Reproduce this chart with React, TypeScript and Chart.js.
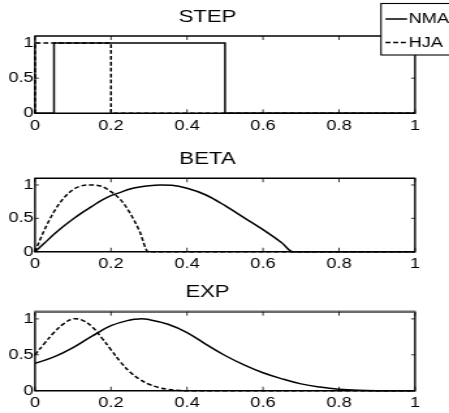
import React, { useEffect, useRef } from 'react';
import { Chart, registerables } from 'chart.js';

Chart.register(...registerables);

// ---------- data ----------
const X_TICKS = [0, 0.2, 0.4, 0.6, 0.8, 1];
const Y_TICKS = [0, 0.5, 1];
const PANEL_TITLES = ['STEP', 'BETA', 'EXP'];
const SERIES_NAMES = ['NMA', 'HJA'];

const STEP_NMA_X = [0, 0.05, 0.05, 0.5, 0.5, 1];
const STEP_NMA_Y = [0, 0, 1, 1, 0, 0];
const STEP_HJA_X = [0, 0, 0.2, 0.2, 1];
const STEP_HJA_Y = [0, 1, 1, 0, 0];

const BETA_NMA_X = [0, 0.025, 0.05, 0.075, 0.1, 0.125, 0.15, 0.175, 0.2, 0.225, 0.25, 0.275, 0.3, 0.33, 0.36, 0.4, 0.45, 0.5, 0.55, 0.6, 0.65, 0.678, 1];
const BETA_NMA_Y = [0, 0.13, 0.26, 0.38, 0.49, 0.59, 0.68, 0.77, 0.84, 0.89, 0.94, 0.97, 0.99, 1.0, 0.995, 0.95, 0.85, 0.69, 0.51, 0.33, 0.13, 0, 0];
const BETA_HJA_X = [0, 0.025, 0.05, 0.075, 0.1, 0.125, 0.15, 0.175, 0.2, 0.225, 0.25, 0.275, 0.298, 1];
const BETA_HJA_Y = [0, 0.33, 0.6, 0.8, 0.93, 0.99, 1.0, 0.98, 0.9, 0.78, 0.58, 0.31, 0, 0];

const EXP_NMA_X = [0, 0.05, 0.1, 0.15, 0.2, 0.25, 0.275, 0.3, 0.35, 0.4, 0.45, 0.5, 0.55, 0.6, 0.65, 0.7, 0.75, 0.8, 0.85, 0.9, 1];
const EXP_NMA_Y = [0.38, 0.47, 0.6, 0.76, 0.905, 0.985, 1.0, 0.99, 0.925, 0.81, 0.645, 0.49, 0.36, 0.25, 0.165, 0.095, 0.05, 0.02, 0.005, 0, 0];
const EXP_HJA_X = [0, 0.025, 0.05, 0.075, 0.1, 0.125, 0.15, 0.175, 0.2, 0.225, 0.25, 0.275, 0.3, 0.325, 0.35, 0.375, 0.4, 1];
const EXP_HJA_Y = [0.5, 0.66, 0.81, 0.93, 1.0, 0.98, 0.89, 0.74, 0.57, 0.4, 0.26, 0.16, 0.09, 0.045, 0.02, 0.005, 0, 0];

const PANEL_SERIES = [
  [[STEP_NMA_X, STEP_NMA_Y], [STEP_HJA_X, STEP_HJA_Y]],
  [[BETA_NMA_X, BETA_NMA_Y], [BETA_HJA_X, BETA_HJA_Y]],
  [[EXP_NMA_X, EXP_NMA_Y], [EXP_HJA_X, EXP_HJA_Y]],
];

// ---------- layout / style ----------
const CSS_W = 449;
const CANVAS_W = 345; // canvas is stretched horizontally to CSS_W
const K = CSS_W / CANVAS_W;
const H = 413;
const PLOT_LEFT = 35;
const PLOT_RIGHT = 415;
const XAXIS_H = 22;
const TITLE_SIZE = 17;
const TICK_SIZE = 14;
const LINE_W = 1.5;
const DASH = [3.8, 2.1];
const FONT = '"Liberation Sans", Arial, Helvetica, sans-serif';
const PANEL_LAYOUT = [
  { titleY: 17.5, top: 36, bottom: 113.3 },
  { titleY: 159.5, top: 178.3, bottom: 251.7 },
  { titleY: 292.7, top: 311.7, bottom: 390.7 },
];
const FRAME_TOP = [
  { color: '#000', width: 1.4 },
  { color: '#000', width: 1.4 },
  { color: '#6a6a6a', width: 2.4 },
];

Chart.defaults.font.family = FONT;

const zip = (xs: number[], ys: number[]) => xs.map((x, i) => ({ x, y: ys[i] }));

const framePlugin = {
  id: 'matlabFrame',
  afterDraw(chart: any, _args: any, opts: any) {
    const { ctx, chartArea: a, scales } = chart;
    const topStyle = FRAME_TOP[opts.panel] || FRAME_TOP[0];
    ctx.save();
    ctx.strokeStyle = '#000';
    ctx.lineWidth = 1.4;
    ctx.beginPath();
    ctx.moveTo(a.left, a.top);
    ctx.lineTo(a.left, a.bottom);
    ctx.lineTo(a.right, a.bottom);
    ctx.lineTo(a.right, a.top);
    ctx.stroke();
    ctx.strokeStyle = topStyle.color;
    ctx.lineWidth = topStyle.width;
    ctx.beginPath();
    ctx.moveTo(a.left - 0.5, a.top);
    ctx.lineTo(a.right + 0.5, a.top);
    ctx.stroke();
    ctx.strokeStyle = '#000';
    ctx.lineWidth = 0.8;
    ctx.beginPath();
    for (const v of X_TICKS) {
      const x = scales.x.getPixelForValue(v);
      ctx.moveTo(x, a.bottom); ctx.lineTo(x, a.bottom - 4);
      ctx.moveTo(x, a.top); ctx.lineTo(x, a.top + 4);
    }
    for (const v of Y_TICKS) {
      const y = scales.y.getPixelForValue(v);
      ctx.moveTo(a.left, y); ctx.lineTo(a.left + 3, y);
      ctx.moveTo(a.right, y); ctx.lineTo(a.right - 3, y);
    }
    ctx.stroke();
    if (opts.legend) {
      const bx = 381 / K, by = 3.5, bw = 120 / K, bh = 51.5;
      ctx.fillStyle = '#fff';
      ctx.fillRect(bx, by, bw, bh);
      ctx.lineWidth = 1.1;
      ctx.strokeRect(bx, by, bw, bh);
      ctx.font = `${TICK_SIZE}px ${FONT}`;
      ctx.textBaseline = 'middle';
      ctx.textAlign = 'left';
      ctx.fillStyle = '#000';
      chart.data.datasets.forEach((ds: any, i: number) => {
        const ly = 19 + i * 23.5;
        ctx.lineWidth = LINE_W;
        ctx.setLineDash(ds.borderDash || []);
        ctx.beginPath();
        ctx.moveTo(385.5 / K, ly);
        ctx.lineTo(407 / K, ly);
        ctx.stroke();
        ctx.setLineDash([]);
        ctx.fillText(ds.label, 408.5 / K, ly + 0.5);
      });
    }
    ctx.restore();
  },
};

function makeConfig(p: number): any {
  const L = PANEL_LAYOUT[p];
  const titleLH = TITLE_SIZE * 1.2;
  const series = PANEL_SERIES[p];
  return {
    type: 'line',
    data: {
      datasets: series.map(([xs, ys], i) => ({
        label: SERIES_NAMES[i],
        data: zip(xs, ys),
        borderColor: '#000',
        borderWidth: LINE_W,
        borderDash: i === 1 ? DASH : [],
        pointRadius: 0,
        fill: false,
        tension: p === 2 ? 0.4 : 0,
        cubicInterpolationMode: p === 1 ? 'monotone' : 'default',
        clip: false,
      })),
    },
    options: {
      responsive: false,
      animation: false,
      devicePixelRatio: 1,
      events: [],
      layout: {
        padding: {
          top: L.titleY - titleLH / 2,
          bottom: H - L.bottom - XAXIS_H,
          left: 0,
          right: CANVAS_W - PLOT_RIGHT / K,
        },
      },
      plugins: {
        legend: { display: false },
        tooltip: { enabled: false },
        title: {
          display: true,
          text: PANEL_TITLES[p],
          color: '#000',
          font: { size: TITLE_SIZE, weight: 'normal', family: FONT },
          padding: { top: 0, bottom: L.top - L.titleY - titleLH / 2 },
        },
        matlabFrame: { legend: p === 0, panel: p },
      },
      scales: {
        x: {
          type: 'linear',
          min: 0,
          max: 1,
          grid: { display: false, drawTicks: false },
          border: { display: false },
          ticks: {
            color: '#000',
            font: { size: TICK_SIZE, family: FONT },
            padding: 4,
            maxRotation: 0,
            autoSkip: false,
            callback: (v: number) => String(v),
          },
          afterBuildTicks: (s: any) => { s.ticks = X_TICKS.map((v) => ({ value: v })); },
          afterFit: (s: any) => { s.height = XAXIS_H; },
        },
        y: {
          type: 'linear',
          min: 0,
          max: 1.1,
          grid: { display: false, drawTicks: false },
          border: { display: false },
          ticks: {
            color: '#000',
            font: { size: TICK_SIZE, family: FONT },
            padding: 1,
            callback: (v: number) => String(v),
          },
          afterBuildTicks: (s: any) => { s.ticks = Y_TICKS.map((v) => ({ value: v })); },
          afterFit: (s: any) => { s.width = PLOT_LEFT / K; },
        },
      },
    },
    plugins: [framePlugin],
  };
}

function Panel({ idx }: { idx: number }) {
  const ref = useRef<HTMLCanvasElement | null>(null);
  useEffect(() => {
    if (!ref.current) return;
    const chart = new Chart(ref.current, makeConfig(idx));
    return () => chart.destroy();
  }, [idx]);
  return (
    <canvas
      ref={ref}
      width={CANVAS_W}
      height={H}
      style={{ position: 'absolute', left: 0, top: 0, width: CSS_W, height: H }}
    />
  );
}

export default function App() {
  return (
    <div
      style={{
        position: 'fixed',
        left: 0,
        top: 0,
        width: CSS_W,
        height: H,
        background: '#fff',
        overflow: 'hidden',
      }}
    >
      {PANEL_TITLES.map((t, i) => (
        <Panel key={t} idx={i} />
      ))}
    </div>
  );
}
